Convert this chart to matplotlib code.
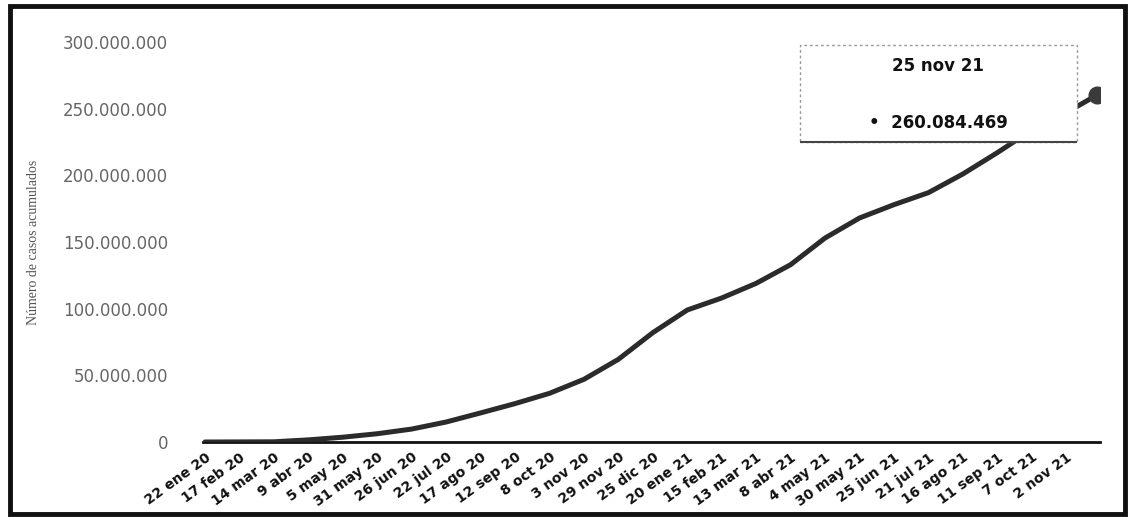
import matplotlib
matplotlib.use("Agg")
import matplotlib.pyplot as plt
import matplotlib.dates as mdates
from matplotlib.patches import Rectangle
import numpy as np

# ---- data ----
dates = ["2020-01-22", "2020-02-17", "2020-03-14", "2020-04-09", "2020-05-05",
         "2020-05-31", "2020-06-26", "2020-07-22", "2020-08-17", "2020-09-12",
         "2020-10-08", "2020-11-03", "2020-11-29", "2020-12-25", "2021-01-20",
         "2021-02-15", "2021-03-13", "2021-04-08", "2021-05-04", "2021-05-30",
         "2021-06-25", "2021-07-21", "2021-08-16", "2021-09-11", "2021-10-07",
         "2021-11-02", "2021-11-25"]
cases = [0.0006e6, 0.07e6, 0.15e6, 1.6e6, 3.6e6,
         6.2e6, 9.7e6, 15.0e6, 21.8e6, 28.8e6,
         36.5e6, 47.0e6, 62.0e6, 82.0e6, 99.0e6,
         108.0e6, 119.0e6, 133.0e6, 153.0e6, 168.0e6,
         178.0e6, 187.0e6, 201.0e6, 217.0e6, 234.0e6,
         247.0e6, 260084469]
tick_labels = ["22 ene 20", "17 feb 20", "14 mar 20", "9 abr 20", "5 may 20",
               "31 may 20", "26 jun 20", "22 jul 20", "17 ago 20", "12 sep 20",
               "8 oct 20", "3 nov 20", "29 nov 20", "25 dic 20", "20 ene 21",
               "15 feb 21", "13 mar 21", "8 abr 21", "4 may 21", "30 may 21",
               "25 jun 21", "21 jul 21", "16 ago 21", "11 sep 21", "7 oct 21",
               "2 nov 21"]
y_ticks = [0, 50e6, 100e6, 150e6, 200e6, 250e6, 300e6]
y_tick_labels = ["0", "50.000.000", "100.000.000", "150.000.000",
                 "200.000.000", "250.000.000", "300.000.000"]
tooltip_date = "25 nov 21"
tooltip_value = "260.084.469"
y_label = "Número de casos acumulados"

W, H = 1130, 522
fig = plt.figure(figsize=(W / 100, H / 100), dpi=100)
fig.patch.set_facecolor("white")

ax = fig.add_axes([203 / W, (H - 442) / H, 897 / W, 400 / H])
x = mdates.date2num(np.array(dates, dtype="datetime64[D]"))
ax.plot(x, cases, color="#2b2b2b", lw=3.6, solid_capstyle="round",
        solid_joinstyle="round", zorder=3)
ax.plot(x[-1:], cases[-1:], "o", color="#3a3a3a", ms=12, zorder=4)

x0 = x[0]
ax.set_xlim(x0 - 1.5, x0 + 675.5)
ax.set_ylim(0, 300e6)

ax.set_xticks(x[:len(tick_labels)])
ax.set_xticklabels(tick_labels, rotation=36, ha="right", va="top",
                   rotation_mode="anchor", fontsize=10, fontweight="bold",
                   color="#111111")
ax.set_yticks(y_ticks)
ax.set_yticklabels(y_tick_labels, fontsize=12, color="#666666")
ax.tick_params(axis="both", length=0)
ax.tick_params(axis="y", pad=25)
ax.tick_params(axis="x", pad=6)

for s in ["top", "right", "left"]:
    ax.spines[s].set_visible(False)
ax.spines["bottom"].set_color("#111111")
ax.spines["bottom"].set_linewidth(2)

ax.set_ylabel(y_label, family="Liberation Serif", fontsize=10, color="#555555")
ax.yaxis.set_label_coords((40 - 203) / 897, 0.5)

# tooltip box
fig.patches.append(Rectangle((800 / W, (H - 142) / H), 277 / W, 97 / H,
                             transform=fig.transFigure, facecolor="white",
                             edgecolor="#999999", lw=1.0, ls=(0, (2, 2)),
                             zorder=10))
fig.patches.append(Rectangle((800 / W, (H - 142) / H), 277 / W, 0,
                             transform=fig.transFigure, facecolor="none",
                             edgecolor="#444444", lw=1.5, zorder=11))
fig.text(938 / W, (H - 66) / H, tooltip_date, ha="center", va="center",
         fontsize=12, fontweight="bold", color="#111111", zorder=12)
fig.text(938 / W, (H - 123) / H, "\u2022  " + tooltip_value, ha="center",
         va="center", fontsize=12, fontweight="bold", color="#111111", zorder=12)

# outer scan frame
fig.patches.append(Rectangle((10 / W, 8 / H), 1115 / W, 508 / H,
                             transform=fig.transFigure, facecolor="none",
                             edgecolor="#111111", lw=3.5, zorder=20))

fig.savefig("out.png", dpi=100)
